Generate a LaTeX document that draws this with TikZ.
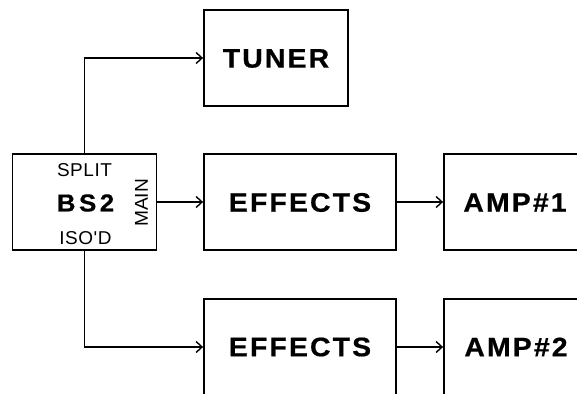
\documentclass[tikz,border=0pt]{standalone}
\usepackage{fontspec}
\setmainfont{Liberation Sans}
\usetikzlibrary{arrows.meta}
\begin{document}
\begin{tikzpicture}[x=1pt,y=-1pt,
  box/.style={draw=black,line width=1.8pt,inner sep=0pt},
  big/.style={font=\fontsize{26.8}{30}\selectfont\bfseries\addfontfeature{FakeStretch=1.06,LetterSpace=8,FakeBold=0.6}},
  small/.style={font=\fontsize{18.6}{22}\selectfont\addfontfeature{FakeStretch=1.02,LetterSpace=3,Ligatures=TeXOff}},
  arr/.style={line width=1.8pt,-{Straight Barb[length=6pt,width=11pt,line width=1.4pt]}}]
\useasboundingbox (0,0) rectangle (577,393);
\node[box,minimum width=144pt,minimum height=96pt] (tuner) at (276,58) {};
\node[big] (tunert) at (276,58.5) {TUNER};
\node[box,minimum width=144pt,minimum height=96pt] (bs2) at (84.5,202) {};
\node[font=\fontsize{24.5}{28}\selectfont\bfseries\addfontfeature{FakeStretch=1.06,LetterSpace=14,FakeBold=0.6}] (bs2t) at (85.5,203) {BS2};
\node[small] (split) at (84.5,170) {SPLIT};
\node[small] (isod) at (85.5,238.5) {ISO'D};
\node[font=\fontsize{18.6}{22}\selectfont\addfontfeature{FakeStretch=1.03},rotate=90] (main) at (141.5,203) {MAIN};
\node[box,minimum width=192pt,minimum height=96pt] (eff1) at (300,202) {};
\node[big] (eff1t) at (300,202.5) {EFFECTS};
\node[box,minimum width=140pt,minimum height=96pt] (amp1) at (514,202) {};
\node[big] (amp1t) at (515,202.5) {AMP\#1};
\node[box,minimum width=192pt,minimum height=96pt] (eff2) at (300,347) {};
\node[big] (eff2t) at (300,347) {EFFECTS};
\node[box,minimum width=140pt,minimum height=96pt] (amp2) at (514,347) {};
\node[big] (amp2t) at (516,347) {AMP\#2};
\draw[arr] (bs2.north) |- (tuner.west);
\draw[arr] (bs2.east) -- (eff1.west);
\draw[arr] (eff1.east) -- (amp1.west);
\draw[arr] (bs2.south) |- (eff2.west);
\draw[arr] (eff2.east) -- (amp2.west);
\end{tikzpicture}
\end{document}
